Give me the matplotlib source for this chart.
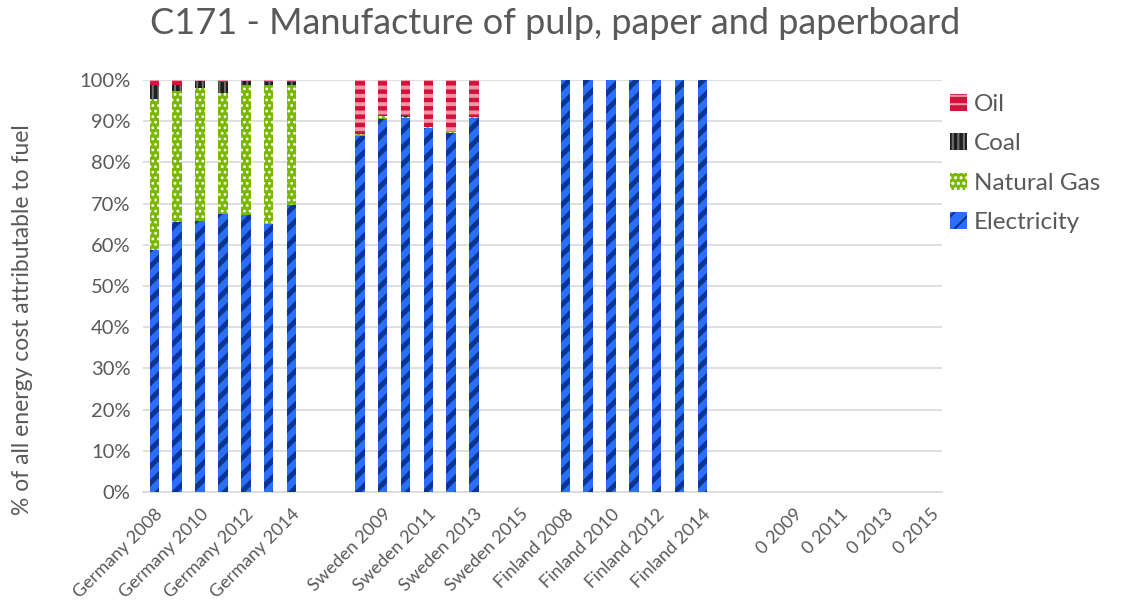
import numpy as np
import matplotlib
matplotlib.use("Agg")
from matplotlib import pyplot as plt
from matplotlib.transforms import ScaledTranslation

plt.rcParams['font.family'] = ['Lato', 'DejaVu Sans']

# categories: four blocks of years, one blank slot between blocks
countries = ["Germany", "Sweden", "Finland", "0"]
years = [2008, 2009, 2010, 2011, 2012, 2013, 2014, 2015]

# shares in % (0 = no data), one list per country and fuel
elec_germany = [58.8, 65.5, 65.8, 67.5, 67.3, 65.0, 69.7, 0]
gas_germany = [36.5, 31.8, 32.3, 29.3, 31.5, 33.7, 29.0, 0]
coal_germany = [3.5, 1.5, 1.7, 2.8, 1.0, 0.8, 0.8, 0]
oil_germany = [1.2, 1.2, 0.2, 0.4, 0.2, 0.5, 0.5, 0]

elec_sweden = [86.4, 90.5, 90.8, 88.3, 87.2, 90.7, 0, 0]
gas_sweden = [0.5, 0.8, 0.3, 0.4, 0.4, 0.4, 0, 0]
coal_sweden = [0.0, 0.0, 0.2, 0.0, 0.0, 0.0, 0, 0]
oil_sweden = [13.1, 8.7, 8.7, 11.3, 12.4, 8.9, 0, 0]

elec_finland = [100, 100, 100, 100, 100, 100, 100, 0]
gas_finland = [0, 0, 0, 0, 0, 0, 0, 0]
coal_finland = [0, 0, 0, 0, 0, 0, 0, 0]
oil_finland = [0, 0, 0, 0, 0, 0, 0, 0]

elec_zero = [0, 0, 0, 0, 0, 0, 0, 0]
gas_zero = [0, 0, 0, 0, 0, 0, 0, 0]
coal_zero = [0, 0, 0, 0, 0, 0, 0, 0]
oil_zero = [0, 0, 0, 0, 0, 0, 0, 0]


def join_blocks(blocks, blank=0):
    out = []
    for i, b in enumerate(blocks):
        if i:
            out.append(blank)
        out.extend(b)
    return out


labels = join_blocks([[f"{c} {y}" for y in years] for c in countries], blank="")
elec = np.array(join_blocks([elec_germany, elec_sweden, elec_finland, elec_zero])) / 100
gas = np.array(join_blocks([gas_germany, gas_sweden, gas_finland, gas_zero])) / 100
coal = np.array(join_blocks([coal_germany, coal_sweden, coal_finland, coal_zero])) / 100
oil = np.array(join_blocks([oil_germany, oil_sweden, oil_finland, oil_zero])) / 100

x = np.arange(len(labels))
grey = '#595959'

fig = plt.figure(figsize=(11.26, 6.05), dpi=100)
ax = fig.add_axes([143/1126, 1-492/605, (942-143)/1126, (492-80)/605])

# fill, hatch colour, hatch, hatch width
styles = {
    'Electricity': ('#2B6EF7', '#0A3596', '//', 3.6),
    'Natural Gas': ('#7AB800', '#FFFFFF', '...', 1.2),
    'Coal': ('#1E1E1E', '#707070', '|||', 1.4),
    'Oil': ('#D2113C', '#F596A8', '--', 2.8),
}

handles = {}
bottom = np.zeros(len(x))
for name, vals in [('Electricity', elec), ('Natural Gas', gas), ('Coal', coal), ('Oil', oil)]:
    fc, hc, hatch, hlw = styles[name]
    with plt.rc_context({'hatch.linewidth': hlw}):
        bars = ax.bar(x, vals, 0.42, bottom=bottom, facecolor=fc, edgecolor=hc,
                      hatch=hatch, linewidth=0, zorder=3, label=name)
    for b in bars:
        if hasattr(b, 'set_hatch_linewidth'):
            b.set_hatch_linewidth(hlw)
    handles[name] = bars
    bottom = bottom + vals

ax.set_xlim(-0.5, len(x) - 0.5)
ax.set_ylim(0, 1)
ax.set_yticks(np.arange(0, 1.01, 0.1))
ax.set_yticklabels([f"{int(round(v*100))}%" for v in np.arange(0, 1.01, 0.1)])
ax.set_xticks(x[::2])
ax.set_xticklabels(labels[::2], rotation=45, ha='right', rotation_mode='anchor')
shift = ScaledTranslation(6/100, 0, fig.dpi_scale_trans)
for t in ax.get_xticklabels():
    t.set_transform(t.get_transform() + shift)
ax.tick_params(axis='y', length=0, pad=9, labelsize=14.5, labelcolor=grey)
ax.tick_params(axis='x', length=0, pad=10, labelsize=13, labelcolor=grey)
ax.grid(axis='y', color='#D9D9D9', linewidth=1.2, zorder=0)
for s in ['top', 'right', 'left']:
    ax.spines[s].set_visible(False)
ax.spines['bottom'].set_color('#D9D9D9')
ax.spines['bottom'].set_linewidth(1.2)

ax.set_ylabel("% of all energy cost attributable to fuel", fontsize=16.5, color=grey)
ax.yaxis.set_label_coords(-(143-33)/799, (492-320)/412)
fig.text(555/1126, 1-24/605, "C171 - Manufacture of pulp, paper and paperboard",
         ha='center', va='center', fontsize=26, color=grey)

order = ['Oil', 'Coal', 'Natural Gas', 'Electricity']
with plt.rc_context({'hatch.linewidth': 1.5}):
    leg = fig.legend([handles[n] for n in order], order, loc='upper left',
                     bbox_to_anchor=(928/1126, 1-72/605), frameon=False, fontsize=17.5,
                     labelcolor=grey, handlelength=0.7, handleheight=0.7,
                     handletextpad=0.3, labelspacing=0.76)

fig.savefig('out.png', dpi=100)
